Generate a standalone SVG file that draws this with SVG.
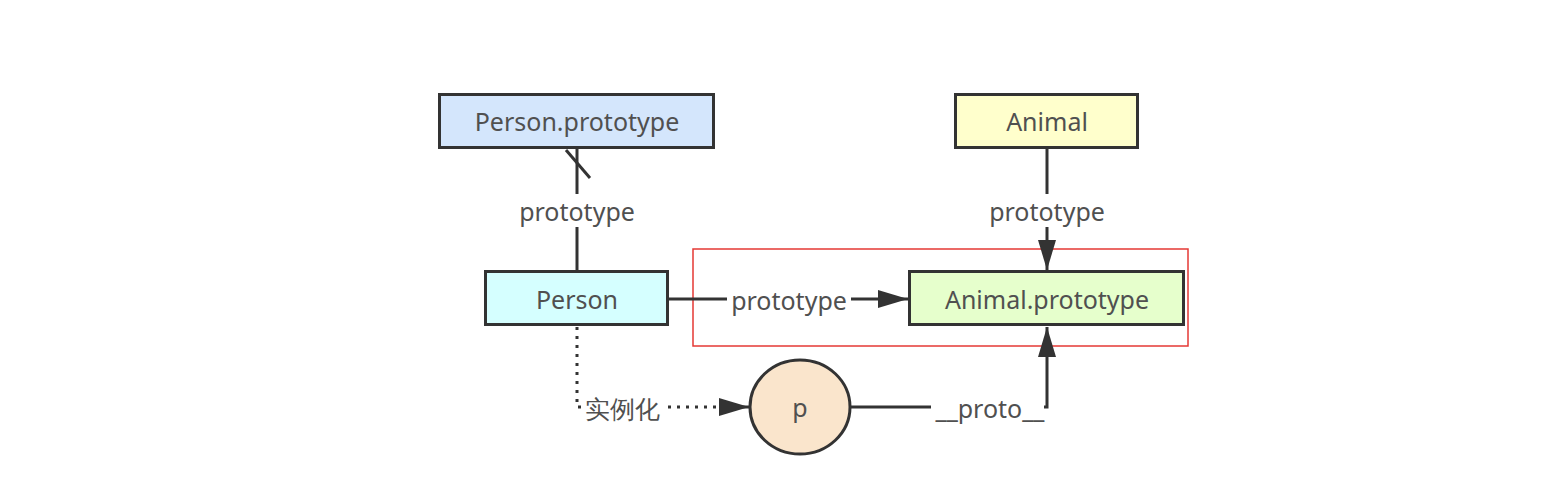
<svg xmlns="http://www.w3.org/2000/svg" width="1556" height="484" viewBox="0 0 1556 484">
<style>
.box{stroke:#333;stroke-width:3}
.t{font-family:"Noto Sans","Open Sans",sans-serif;font-size:25px;fill:#505050;text-anchor:middle;dominant-baseline:central}
.ln{stroke:#333;stroke-width:3;fill:none}
.dot{stroke:#333;stroke-width:3;fill:none;stroke-dasharray:3 6}
.bg{fill:#fff}
</style>
<defs>
<marker id="arr" viewBox="0 0 30 20" refX="30" refY="10" markerWidth="30" markerHeight="20" markerUnits="userSpaceOnUse" orient="auto">
<path d="M0,1 L30,10 L0,19 Z" fill="#333"/>
</marker>
</defs>
<rect width="1556" height="484" fill="#fff"/>
<g id="highlight"><rect x="693" y="249" width="495" height="97" fill="none" stroke="#e53935" stroke-width="1.5"/></g>
<g id="connectors">
<g id="c1">
<line class="ln" x1="577" y1="271" x2="577" y2="149"/>
<line class="ln" x1="566" y1="150" x2="590" y2="178"/>
<rect class="bg" x="514" y="194" width="126" height="33"/>
<text class="t" x="577" y="211">prototype</text>
</g>
<g id="c2">
<line class="ln" x1="1047" y1="148" x2="1047" y2="270" marker-end="url(#arr)"/>
<rect class="bg" x="984" y="194" width="126" height="33"/>
<text class="t" x="1047" y="211">prototype</text>
</g>
<g id="c3">
<line class="ln" x1="668" y1="299" x2="908" y2="299" marker-end="url(#arr)"/>
<rect class="bg" x="727" y="284" width="124" height="30"/>
<text class="t" x="789" y="300">prototype</text>
</g>
<g id="c4">
<path class="dot" d="M577,327 L577,407 L720,407"/>
<line class="ln" x1="720" y1="407" x2="749" y2="407" marker-end="url(#arr)"/>
<rect class="bg" x="583" y="393" width="79" height="30"/>
<text class="t" x="622" y="408">实例化</text>
</g>
<g id="c5">
<path class="ln" d="M850,407 L1047,407 L1047,327" marker-end="url(#arr)"/>
<rect class="bg" x="931" y="392" width="113" height="34"/>
<text class="t" x="990" y="408">__proto__</text>
</g>
</g>
<g id="person-prototype"><rect class="box" x="439.5" y="94.5" width="274" height="53" fill="#d4e6fc"/><text class="t" x="577" y="121">Person.prototype</text></g>
<g id="animal"><rect class="box" x="955.5" y="94.5" width="182" height="53" fill="#ffffcc"/><text class="t" x="1047" y="121">Animal</text></g>
<g id="person"><rect class="box" x="485.5" y="271.5" width="182" height="53" fill="#d5ffff"/><text class="t" x="577" y="299">Person</text></g>
<g id="animal-prototype"><rect class="box" x="909.5" y="271.5" width="274" height="53" fill="#e6ffcc"/><text class="t" x="1047" y="299">Animal.prototype</text></g>
<g id="p"><ellipse class="box" cx="800" cy="407" rx="50" ry="47" fill="#fae5cc"/><text class="t" x="800" y="407">p</text></g>
</svg>
